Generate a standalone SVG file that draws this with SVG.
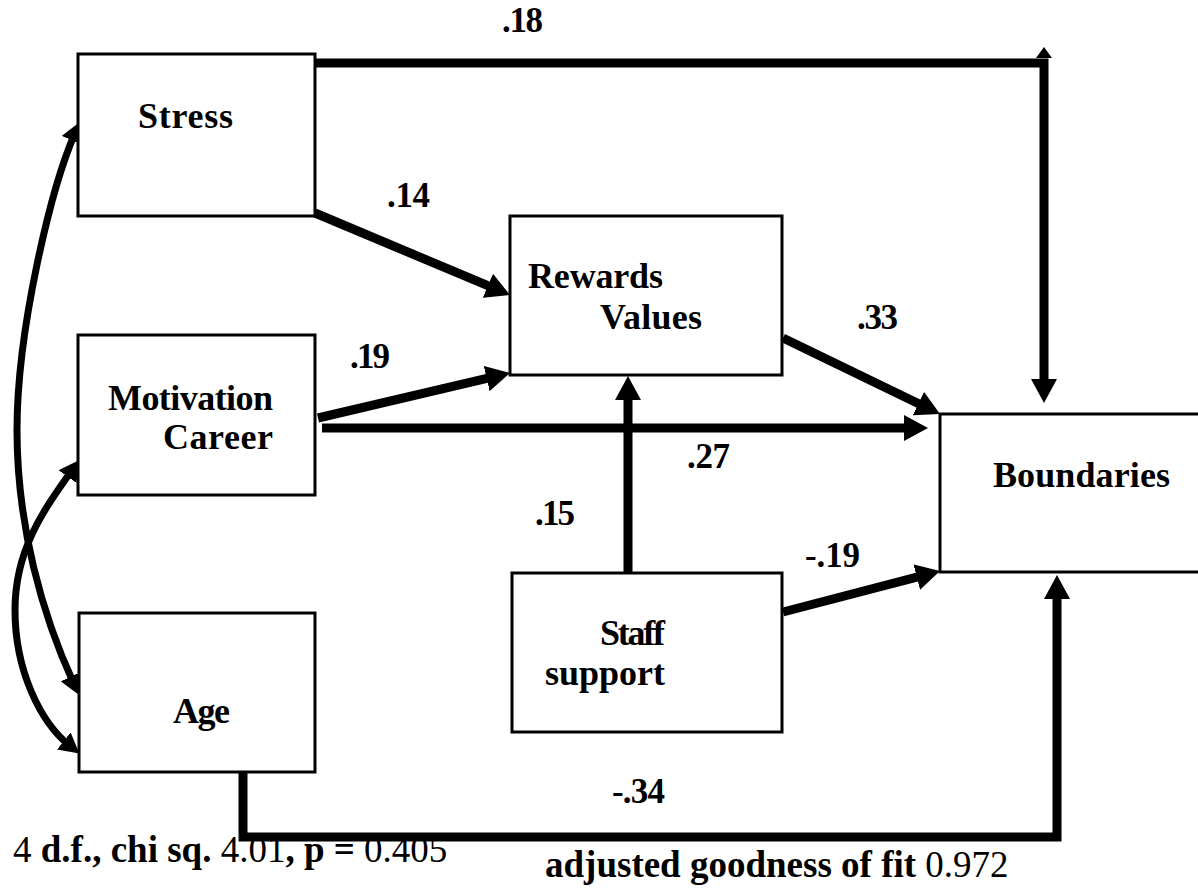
<svg xmlns="http://www.w3.org/2000/svg" width="1198" height="890" viewBox="0 0 1198 890">
  <style>
    .box { fill: #ffffff; stroke: #000000; stroke-width: 3; }
    .lbl { font-family: "Liberation Serif", "Times New Roman", serif; font-weight: bold; font-size: 36px; fill: #000000; }
    .num { font-family: "Liberation Serif", "Times New Roman", serif; font-weight: bold; font-size: 35px; fill: #000000; }
    .note { font-family: "Liberation Serif", "Times New Roman", serif; font-weight: bold; font-size: 37px; fill: #000000; }
    .note .n { font-weight: normal; }
    .path { fill: none; stroke: #000000; stroke-width: 9; stroke-linejoin: miter; stroke-linecap: butt; }
    .corr { fill: none; stroke: #000000; stroke-width: 7; stroke-linecap: butt; }
  </style>
  <defs>
    <marker id="head" markerUnits="userSpaceOnUse" viewBox="0 0 24 26" markerWidth="24" markerHeight="26" refX="9" refY="13" orient="auto">
      <path d="M0,0 L24,13 L0,26 Z" fill="#000000"/>
    </marker>
    <marker id="headC" markerUnits="userSpaceOnUse" viewBox="0 0 20 22" markerWidth="20" markerHeight="22" refX="8" refY="11" orient="auto-start-reverse">
      <path d="M0,0 L20,11 L0,22 Z" fill="#000000"/>
    </marker>
  </defs>

  <g id="connectors">
    <!-- Stress to Boundaries (over the top) -->
    <path class="path" d="M315,63 H1044 V388" marker-end="url(#head)"/>
    <polygon points="1036,58 1044,47 1052,58" fill="#000000"/>
    <!-- Stress to Rewards Values -->
    <path class="path" d="M315,213 L496.2,289.2" marker-end="url(#head)"/>
    <!-- Motivation Career to Rewards Values -->
    <path class="path" d="M318,418 L495.4,376.4" marker-end="url(#head)"/>
    <!-- Motivation Career to Boundaries -->
    <path class="path" d="M322,428 L913,428" marker-end="url(#head)"/>
    <!-- Rewards Values to Boundaries -->
    <path class="path" d="M783,338 L926.5,407.5" marker-end="url(#head)"/>
    <!-- Staff support to Rewards Values -->
    <path class="path" d="M628,573 L628,391" marker-end="url(#head)"/>
    <!-- Staff support to Boundaries -->
    <path class="path" d="M783,612 L925.5,574.8" marker-end="url(#head)"/>
    <!-- Age to Boundaries (under the bottom) -->
    <path class="path" d="M243,772 V837 H1057 V590" marker-end="url(#head)"/>
    <!-- correlations -->
    <path class="corr" d="M75,133 C51,188 17,330 17,430 C17,525 42,615 74,684" marker-start="url(#headC)" marker-end="url(#headC)"/>
    <path class="corr" d="M72,470 C43,511 15,550 15,610 C15,670 40,722 70,746" marker-start="url(#headC)" marker-end="url(#headC)"/>
  </g>

  <g id="stress">
    <rect class="box" x="78" y="54" width="237" height="162"/>
    <text class="lbl" x="138" y="128" textLength="95">Stress</text>
  </g>
  <g id="motivation">
    <rect class="box" x="78" y="335" width="237" height="160"/>
    <text class="lbl" x="108" y="410" textLength="165">Motivation</text>
    <text class="lbl" x="163" y="449" textLength="110">Career</text>
  </g>
  <g id="age">
    <rect class="box" x="79" y="613" width="236" height="159"/>
    <text class="lbl" x="173" y="723" textLength="57">Age</text>
  </g>
  <g id="rewards">
    <rect class="box" x="510" y="216" width="272" height="159"/>
    <text class="lbl" x="528" y="288" textLength="135">Rewards</text>
    <text class="lbl" x="600" y="329" textLength="102">Values</text>
  </g>
  <g id="staff">
    <rect class="box" x="512" y="573" width="270" height="159"/>
    <text class="lbl" x="600" y="645" textLength="65">Staff</text>
    <text class="lbl" x="545" y="685" textLength="120">support</text>
  </g>
  <g id="boundaries">
    <path d="M1200,414 H940 V572 H1200" fill="#ffffff" stroke="#000000" stroke-width="3"/>
    <text class="lbl" x="993" y="487" textLength="177">Boundaries</text>
  </g>

  <g id="labels">
    <text class="num" x="502" y="32" textLength="41">.18</text>
    <text class="num" x="387" y="207" textLength="43">.14</text>
    <text class="num" x="350" y="368" textLength="40">.19</text>
    <text class="num" x="857" y="329" textLength="41">.33</text>
    <text class="num" x="687" y="468" textLength="43">.27</text>
    <text class="num" x="535" y="525" textLength="40">.15</text>
    <text class="num" x="805" y="567" textLength="55">-.19</text>
    <text class="num" x="612" y="803" textLength="53">-.34</text>
  </g>

  <g id="notes">
    <text class="note" x="13" y="862"><tspan class="n">4</tspan> d.f., chi sq. <tspan class="n">4.01</tspan>, p = <tspan class="n">0.405</tspan></text>
    <text class="note" x="545" y="877">adjusted goodness of fit <tspan class="n">0.972</tspan></text>
  </g>
</svg>
